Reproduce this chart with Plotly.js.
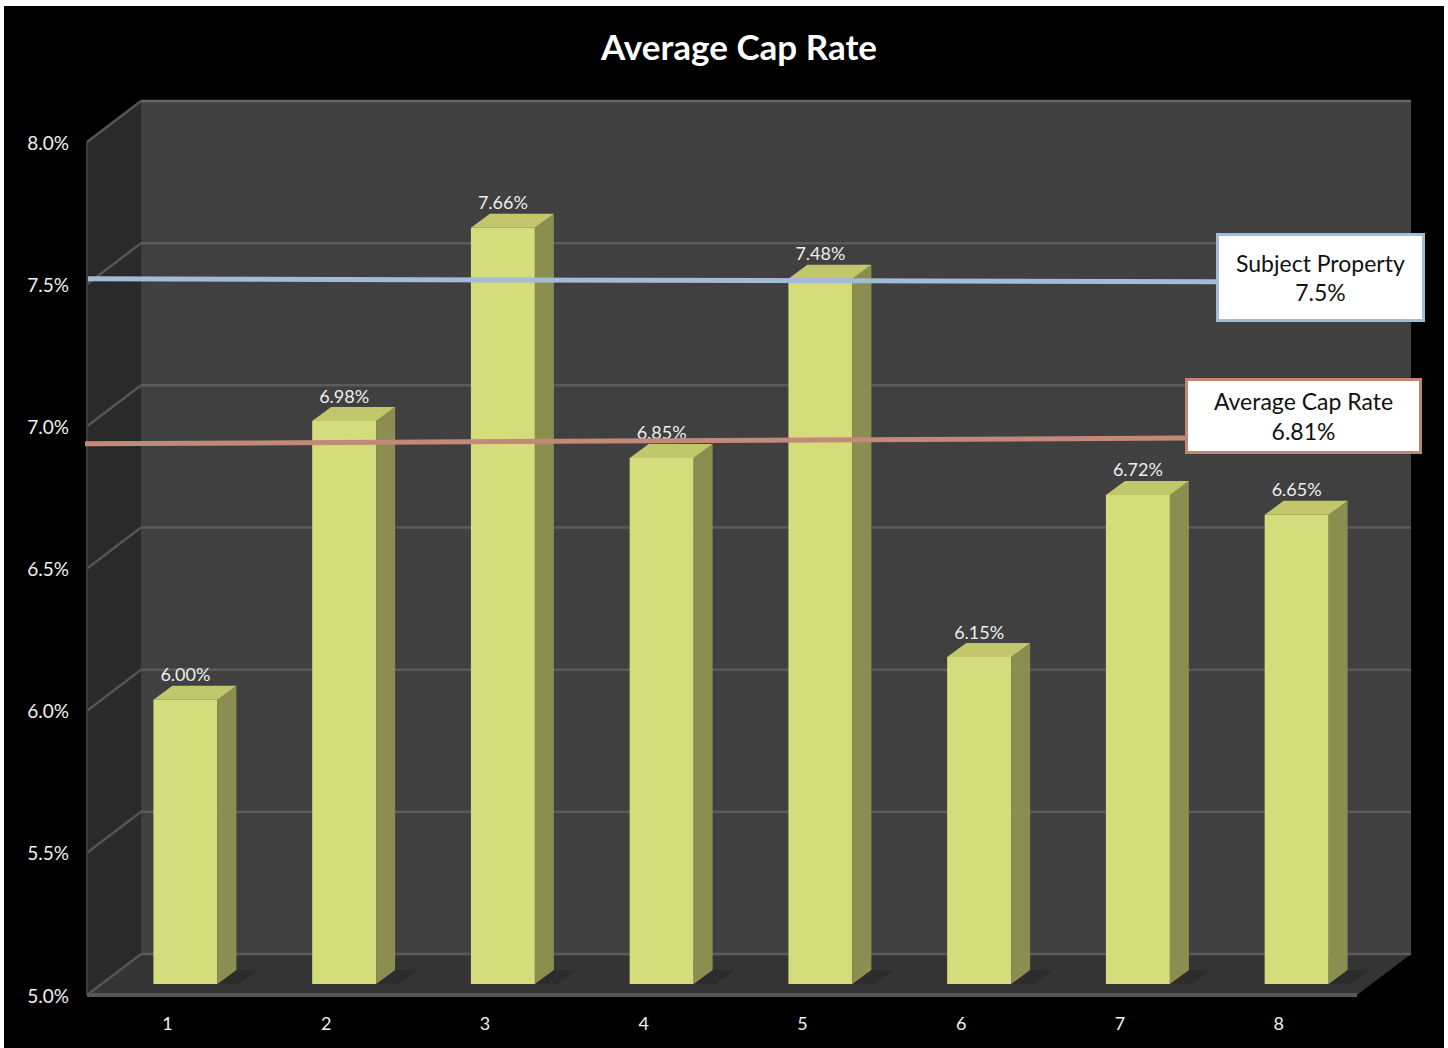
<!DOCTYPE html>
<html>
<head>
<meta charset="utf-8">
<script src="https://cdn.plot.ly/plotly-3.0.1.min.js"></script>
<style>
html,body{margin:0;padding:0;background:#000;}
#wrap{position:relative;width:1448px;height:1048px;overflow:hidden;}
#chart{position:absolute;left:0;top:0;width:1448px;height:1048px;}
#frame{position:absolute;left:0;top:0;width:1448px;height:1048px;box-sizing:border-box;border-style:solid;border-color:#fff;border-width:6px 4px 0 4px;pointer-events:none;}
</style>
</head>
<body>
<div id="wrap"><div id="chart"></div><div id="frame"></div></div>
<script>
// ---------- data ----------
const categories = ['1', '2', '3', '4', '5', '6', '7', '8'];
const capRates = [6.00, 6.98, 7.66, 6.85, 7.48, 6.15, 6.72, 6.65];
const yTicks = [5.0, 5.5, 6.0, 6.5, 7.0, 7.5, 8.0];
const subjectRate = 7.5;
const averageRate = 6.81;
// reference lines as drawn in the picture (value at left end, value at right end)
const subjectLineY = [7.48, 7.47];
const averageLineY = [6.90, 6.92];

// ---------- styling / pseudo-3D geometry ----------
const FONT = 'Lato, "Open Sans", sans-serif';
const PX_PER_CAT = 158.75, PX_PER_UNIT = 284.33;
const FRONT = {dx: -19 / PX_PER_CAT, dy: -11 / PX_PER_UNIT};   // front plane relative to bar plane
const DEPTH = {dx: 54 / PX_PER_CAT, dy: 41 / PX_PER_UNIT};     // front -> back wall
const BAR_W = 0.403;
const SIDE = {dx: 19 / PX_PER_CAT, dy: 14 / PX_PER_UNIT};      // bar depth
const yMin = yTicks[0], yMax = yTicks[yTicks.length - 1];
const xPos = categories.map((c, i) => i + 1);
const catLo = 0.5, catHi = categories.length + 0.5;

function P(c, v, d) { return [c + FRONT.dx + d * DEPTH.dx, v + FRONT.dy + d * DEPTH.dy]; }
function path(pts) { return 'M ' + pts.map(p => p[0] + ',' + p[1]).join(' L ') + ' Z'; }

const shapes = [];
// back wall
shapes.push({type: 'path', xref: 'x', yref: 'y', layer: 'below', line: {width: 0}, fillcolor: '#404040',
  path: path([P(catLo, yMin, 1), P(catHi, yMin, 1), P(catHi, yMax, 1), P(catLo, yMax, 1)])});
// left wall
shapes.push({type: 'path', xref: 'x', yref: 'y', layer: 'below', line: {width: 0}, fillcolor: '#2a2a2a',
  path: path([P(catLo, yMin, 0), P(catLo, yMax, 0), P(catLo, yMax, 1), P(catLo, yMin, 1)])});
// floor
shapes.push({type: 'path', xref: 'x', yref: 'y', layer: 'below', line: {width: 0}, fillcolor: '#343434',
  path: path([P(catLo, yMin, 0), P(catHi, yMin, 0), P(catHi, yMin, 1), P(catLo, yMin, 1)])});
// gridlines on back & left walls
yTicks.forEach(v => {
  const a = P(catLo, v, 1), b = P(catHi, v, 1), f = P(catLo, v, 0);
  shapes.push({type: 'line', xref: 'x', yref: 'y', layer: 'below', x0: a[0], y0: a[1], x1: b[0], y1: b[1],
    line: {color: v === yMax ? '#666666' : '#5b5b5b', width: 2.5}});
  shapes.push({type: 'line', xref: 'x', yref: 'y', layer: 'below', x0: f[0], y0: f[1], x1: a[0], y1: a[1],
    line: {color: '#555555', width: 2.5}});
});
// left wall front edge
(function () {
  const a = P(catLo, yMin, 0), b = P(catLo, yMax, 0);
  shapes.push({type: 'line', xref: 'x', yref: 'y', layer: 'below', x0: a[0], y0: a[1], x1: b[0], y1: b[1],
    line: {color: '#3c3c3c', width: 2}});
})();
// floor front edge (slab)
(function () {
  const a = P(catLo, yMin, 0), b = P(catHi, yMin, 0);
  shapes.push({type: 'line', xref: 'x', yref: 'y', layer: 'below', x0: a[0], y0: a[1], x1: b[0], y1: b[1],
    line: {color: '#575757', width: 4}});
})();
// reference lines (above bars)
shapes.push({type: 'line', xref: 'x', yref: 'y', layer: 'above', x0: 0.386, y0: subjectLineY[0], x1: 7.505, y1: subjectLineY[1],
  line: {color: '#a3bcd5', width: 5}});
shapes.push({type: 'line', xref: 'x', yref: 'y', layer: 'above', x0: 0.368, y0: averageLineY[0], x1: 7.316, y1: averageLineY[1],
  line: {color: '#c2897a', width: 5}});

// ---------- traces ----------
const shadowX = [], shadowY = [], sideX = [], sideY = [], topX = [], topY = [];
capRates.forEach((v, i) => {
  const c = xPos[i], L = c - BAR_W / 2, R = c + BAR_W / 2;
  shadowX.push(R, R + SIDE.dx, R + SIDE.dx + 0.14, R + 0.14, null);
  shadowY.push(yMin, yMin + SIDE.dy, yMin + SIDE.dy, yMin, null);
  sideX.push(R, R + SIDE.dx, R + SIDE.dx, R, null);
  sideY.push(yMin, yMin + SIDE.dy, v + SIDE.dy, v, null);
  topX.push(L, L + SIDE.dx, R + SIDE.dx, R, null);
  topY.push(v, v + SIDE.dy, v + SIDE.dy, v, null);
});

const traces = [
  {type: 'scatter', mode: 'lines', x: shadowX, y: shadowY, fill: 'toself', fillcolor: 'rgba(25,25,25,0.3)',
   line: {width: 0}, hoverinfo: 'skip', connectgaps: false},
  {type: 'bar', x: xPos, y: capRates.map(v => v - yMin), base: yMin, width: BAR_W,
   marker: {color: '#d4dc7b', line: {width: 0}}, hoverinfo: 'skip'},
  {type: 'scatter', mode: 'lines', x: sideX, y: sideY, fill: 'toself', fillcolor: '#8c8e50',
   line: {width: 0}, hoverinfo: 'skip', connectgaps: false},
  {type: 'scatter', mode: 'lines', x: topX, y: topY, fill: 'toself', fillcolor: '#c2c76c',
   line: {width: 0}, hoverinfo: 'skip', connectgaps: false},
  {type: 'scatter', mode: 'text', x: xPos, y: capRates.map(v => v + SIDE.dy),
   text: capRates.map(v => v.toFixed(2) + '%'), textposition: 'top center',
   textfont: {family: FONT, size: 18, color: '#eeeeee'}, hoverinfo: 'skip', cliponaxis: false}
];

const layout = {
  width: 1448, height: 1048,
  paper_bgcolor: '#000', plot_bgcolor: '#000',
  margin: {l: 78, r: 33, t: 95, b: 45, pad: 0},
  showlegend: false,
  title: {text: '<b>Average Cap Rate</b>', font: {family: FONT, size: 35, color: '#ffffff'},
    x: 739 / 1448, xref: 'container', xanchor: 'center', y: 1 - 48 / 1048, yref: 'container', yanchor: 'middle'},
  xaxis: {range: [0.32346, 8.74551], tickvals: xPos, ticktext: categories, showgrid: false, zeroline: false,
    showline: false, ticks: '', tickfont: {family: FONT, size: 18, color: '#f0f0f0'},
    ticklabelshift: -18, ticklabelstandoff: 8, fixedrange: true},
  yaxis: {range: [4.93318, 8.12665], tickvals: yTicks, ticktext: yTicks.map(v => v.toFixed(1) + '%'),
    showgrid: false, zeroline: false, showline: false, ticks: '',
    tickfont: {family: FONT, size: 19, color: '#f0f0f0'}, ticklabelshift: 12, ticklabelstandoff: 8, fixedrange: true},
  shapes: shapes,
  annotations: [
    {xref: 'paper', yref: 'paper', x: (1320.5 - 78) / 1337, y: (1003 - 277.5) / 908, xanchor: 'center', yanchor: 'middle',
     text: 'Subject Property<br>' + subjectRate.toFixed(1) + '%', showarrow: false, align: 'center',
     bgcolor: '#ffffff', bordercolor: '#a3bcd5', borderwidth: 3, borderpad: 0, width: 203, height: 83,
     font: {family: FONT, size: 23, color: '#111111'}},
    {xref: 'paper', yref: 'paper', x: (1303.5 - 78) / 1337, y: (1003 - 416) / 908, xanchor: 'center', yanchor: 'middle',
     text: 'Average Cap Rate<br>' + averageRate.toFixed(2) + '%', showarrow: false, align: 'center',
     bgcolor: '#ffffff', bordercolor: '#bf8675', borderwidth: 3, borderpad: 0, width: 231, height: 70,
     font: {family: FONT, size: 23, color: '#111111'}}
  ]
};

Plotly.newPlot('chart', traces, layout, {displayModeBar: false, staticPlot: true});
</script>
</body>
</html>
